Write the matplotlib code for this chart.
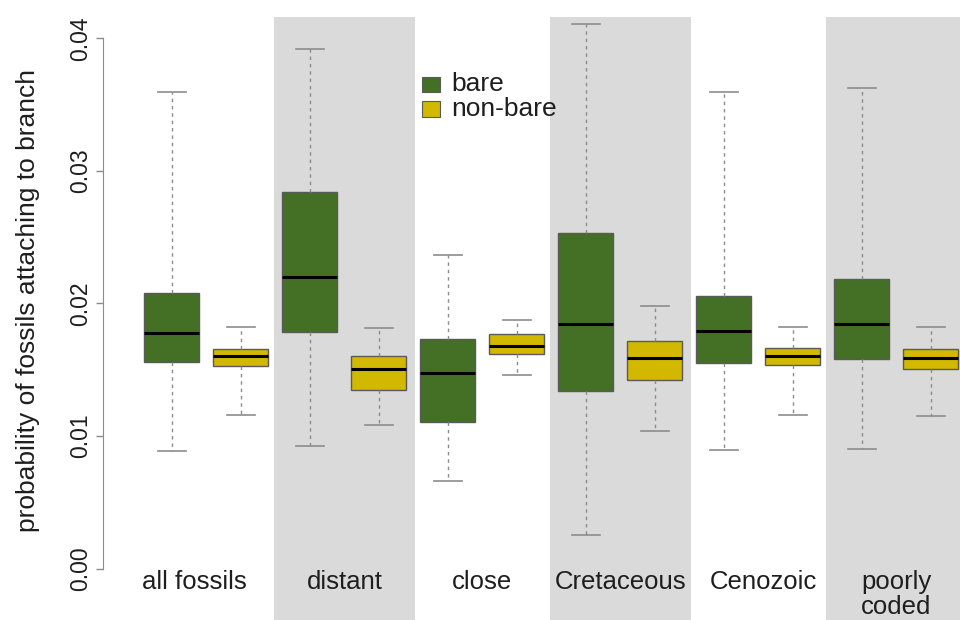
"""Boxplots of fossil attachment probabilities, bare vs non-bare branches"""

import matplotlib
matplotlib.use("Agg")
import matplotlib.pyplot as plt
from matplotlib.patches import Rectangle

groups = ["all fossils", "distant", "close", "Cretaceous", "Cenozoic", "poorly\ncoded"]
series = ["bare", "non-bare"]

# five-number summaries per group (lower whisker, Q1, median, Q3, upper whisker)
bare_whislo = [0.00885, 0.00925, 0.00664, 0.00256, 0.00893, 0.00900]
bare_q1 = [0.01559, 0.01785, 0.01106, 0.01340, 0.01551, 0.01579]
bare_med = [0.01778, 0.02198, 0.01474, 0.01848, 0.01795, 0.01845]
bare_q3 = [0.02079, 0.02839, 0.01735, 0.02534, 0.02059, 0.02185]
bare_whishi = [0.03595, 0.03922, 0.02366, 0.04108, 0.03595, 0.03627]

nonbare_whislo = [0.01161, 0.01081, 0.01463, 0.01036, 0.01161, 0.01154]
nonbare_q1 = [0.01531, 0.01345, 0.01617, 0.01421, 0.01536, 0.01506]
nonbare_med = [0.01606, 0.01504, 0.01682, 0.01587, 0.01602, 0.01591]
nonbare_q3 = [0.01659, 0.01604, 0.01768, 0.01715, 0.01662, 0.01655]
nonbare_whishi = [0.01825, 0.01815, 0.01878, 0.01981, 0.01823, 0.01820]

yticks = [0.00, 0.01, 0.02, 0.03, 0.04]

GREEN = "#437024"
YELLOW = "#d2b800"
BAND = "#dadada"
AXGREY = "#8c8c8c"
INK = "#1e1e1e"

plt.rcParams.update({"font.family": ["Liberation Sans", "DejaVu Sans"]})

fig = plt.figure(figsize=(9.6, 6.2), dpi=100)
ax = fig.add_axes([0.1071, 0.04, 0.8927, 0.941])
ax.set_xlim(0, 12.42)
ax.set_ylim(-0.002, 0.042)

stats = []
colors = []
positions = []
for i in range(len(groups)):
    stats.append(dict(whislo=bare_whislo[i], q1=bare_q1[i], med=bare_med[i],
                      q3=bare_q3[i], whishi=bare_whishi[i], fliers=[]))
    stats.append(dict(whislo=nonbare_whislo[i], q1=nonbare_q1[i], med=nonbare_med[i],
                      q3=nonbare_q3[i], whishi=nonbare_whishi[i], fliers=[]))
    colors += [GREEN, YELLOW]
    positions += [2 * i + 1, 2 * i + 2]

# shaded background for every other group
for i in range(1, len(groups), 2):
    c = 2 * i + 1.5
    ax.add_patch(Rectangle((c - 1.025, -0.01), 2.05, 0.0516, facecolor=BAND,
                           edgecolor="none", zorder=0, clip_on=False))

bp = ax.bxp(stats, positions=positions, widths=0.8, capwidths=0.4,
            patch_artist=True, showfliers=False,
            boxprops=dict(edgecolor="#5a5a5a", linewidth=1.0),
            medianprops=dict(color="black", linewidth=2.2, solid_capstyle="butt"),
            whiskerprops=dict(color=AXGREY, linewidth=1.0, linestyle=(0, (2.5, 2.8))),
            capprops=dict(color=AXGREY, linewidth=1.2))
for patch, col in zip(bp["boxes"], colors):
    patch.set_facecolor(col)
for art in bp["boxes"] + bp["medians"] + bp["whiskers"] + bp["caps"]:
    art.set_zorder(3)

# group labels under each pair; multi-line labels hang below the first baseline
label_shift = [-0.17, 0, 0, 0, 0.07, 0]
for i, g in enumerate(groups):
    nl = g.count("\n")
    ax.text(2 * i + 1.5 + label_shift[i], -0.00153 - nl * 0.00189, g,
            ha="center", va="baseline", fontsize=18.5, linespacing=1.08,
            clip_on=False, color=INK)

# legend
for k, (name, col) in enumerate(zip(series, colors[:2])):
    yc = 0.03652 - k * 0.00185
    ax.add_patch(Rectangle((4.757 - 0.13, yc - 0.00059), 0.26, 0.00118,
                           facecolor=col, edgecolor="#5a5a5a", linewidth=0.8, zorder=4))
    ax.text(5.047, yc, name, ha="left", va="center", fontsize=19, color=INK)

for s in ["top", "right", "bottom"]:
    ax.spines[s].set_visible(False)
ax.spines["left"].set_bounds(0, 0.04)
ax.spines["left"].set_color(AXGREY)
ax.set_xticks([])
ax.set_yticks(yticks)
ax.set_yticklabels([f"{t:.2f}" for t in yticks])
ax.tick_params(axis="y", length=5, width=1, color=AXGREY, pad=3, labelsize=16.5,
               labelcolor=INK, labelrotation=90)
for lab in ax.get_yticklabels():
    lab.set_va("center")
ax.patch.set_visible(False)

fig.text(28 / 960, 1 - 301 / 620, "probability of fossils attaching to branch",
         rotation=90, ha="center", va="center", fontsize=19, color=INK)

fig.savefig("out.png", dpi=100)
